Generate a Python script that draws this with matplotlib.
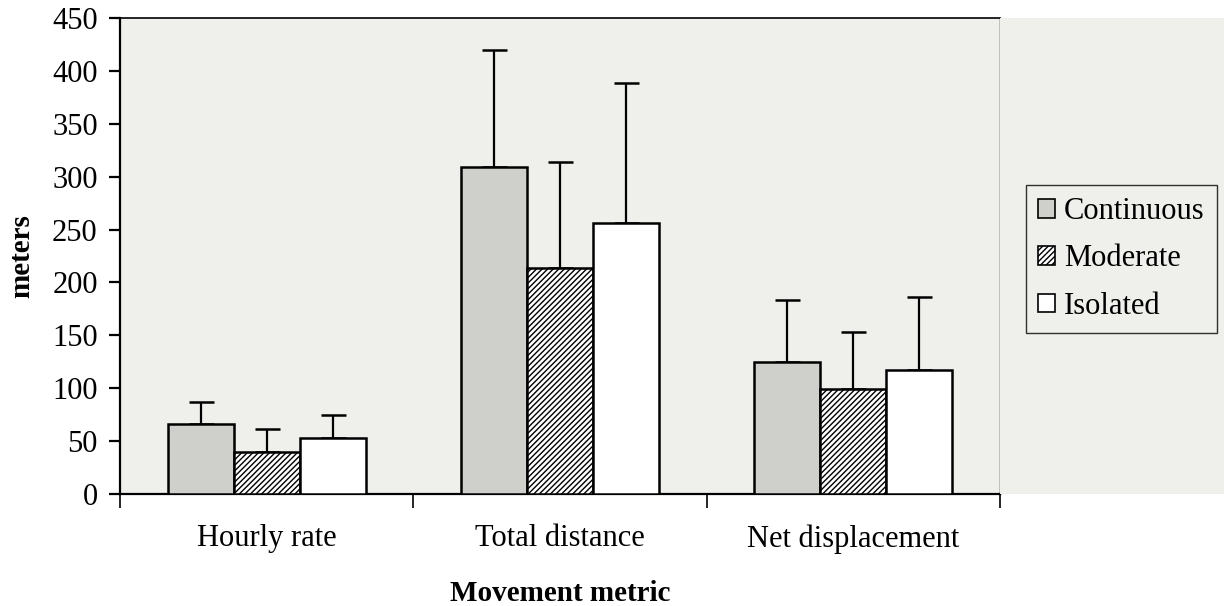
import matplotlib
matplotlib.use("Agg")
import matplotlib.pyplot as plt
import numpy as np
from matplotlib.patches import Rectangle, Patch

categories = ["Hourly rate", "Total distance", "Net displacement"]
series = ["Continuous", "Moderate", "Isolated"]
continuous = [66, 309, 125]
moderate = [40, 214, 99]
isolated = [53, 256, 117]
continuous_err = [21, 111, 58]
moderate_err = [21, 100, 54]
isolated_err = [22, 133, 69]
yticks = [0, 50, 100, 150, 200, 250, 300, 350, 400, 450]

plt.rcParams['font.family'] = ['Liberation Serif', 'DejaVu Serif']
plt.rcParams['hatch.linewidth'] = 1.0

fig = plt.figure(figsize=(12.24, 6.06), dpi=100)
fig.patch.set_facecolor('white')
bg = '#efefeb'
# gray chart area to the right
fig.patches.append(Rectangle((0.817, 0.185), 0.183, 0.785, transform=fig.transFigure,
                             facecolor=bg, edgecolor='none', zorder=0))
ax = fig.add_axes([0.098, 0.185, 0.719, 0.785])
ax.set_facecolor(bg)

x = np.arange(len(categories)) + 0.5
w = 0.225
styles = [
    dict(facecolor='#cfd0cc', hatch=None),
    dict(facecolor='white', hatch='//////'),
    dict(facecolor='white', hatch=None),
]
vals = [continuous, moderate, isolated]
errs = [continuous_err, moderate_err, isolated_err]
for i, (v, e, st) in enumerate(zip(vals, errs, styles)):
    xs = x + (i - 1) * w
    ax.bar(xs, v, width=w, facecolor=st['facecolor'], hatch=st['hatch'],
           edgecolor='black', linewidth=1.8, zorder=3, label=series[i])
    ax.errorbar(xs, v, yerr=[np.zeros(len(v)), e], fmt='none', ecolor='black',
                elinewidth=1.6, capsize=9, capthick=1.8, zorder=2)

ax.set_xlim(0, 3)
ax.set_ylim(0, 450)
ax.set_yticks(yticks)
ax.set_yticklabels([str(t) for t in yticks], fontsize=22)
ax.tick_params(axis='y', direction='out', length=8, width=1.6, pad=8)
ax.set_xticks([0, 1, 2, 3])
ax.set_xticklabels([])
ax.tick_params(axis='x', which='major', direction='out', length=10, width=1.2)
ax.set_xticks(x, minor=True)
ax.set_xticklabels(categories, minor=True, fontsize=22)
ax.tick_params(axis='x', which='minor', length=0, pad=22)

for s in ['left', 'bottom']:
    ax.spines[s].set_linewidth(1.6)
ax.spines['top'].set_linewidth(1.2)
ax.spines['right'].set_linewidth(1.0)

ax.set_ylabel('meters', fontsize=21, fontweight='bold', labelpad=12)
ax.set_xlabel('Movement metric', fontsize=21, fontweight='bold', labelpad=19)

handles = [Patch(facecolor='#cfd0cc', edgecolor='black', linewidth=1.2),
           Patch(facecolor='white', edgecolor='black', hatch='//////', linewidth=1.2),
           Patch(facecolor='white', edgecolor='black', linewidth=1.2)]
leg = fig.legend(handles, series, loc='center left', bbox_to_anchor=(1026/1224, 1 - 259/606),
                 fontsize=22, frameon=True, fancybox=False, edgecolor='black',
                 handlelength=0.55, handleheight=0.55, handletextpad=0.3,
                 labelspacing=0.6, borderpad=0.4, borderaxespad=0)
leg.get_frame().set_facecolor(bg)
leg.get_frame().set_linewidth(1.0)

fig.savefig('out.png', dpi=100)
